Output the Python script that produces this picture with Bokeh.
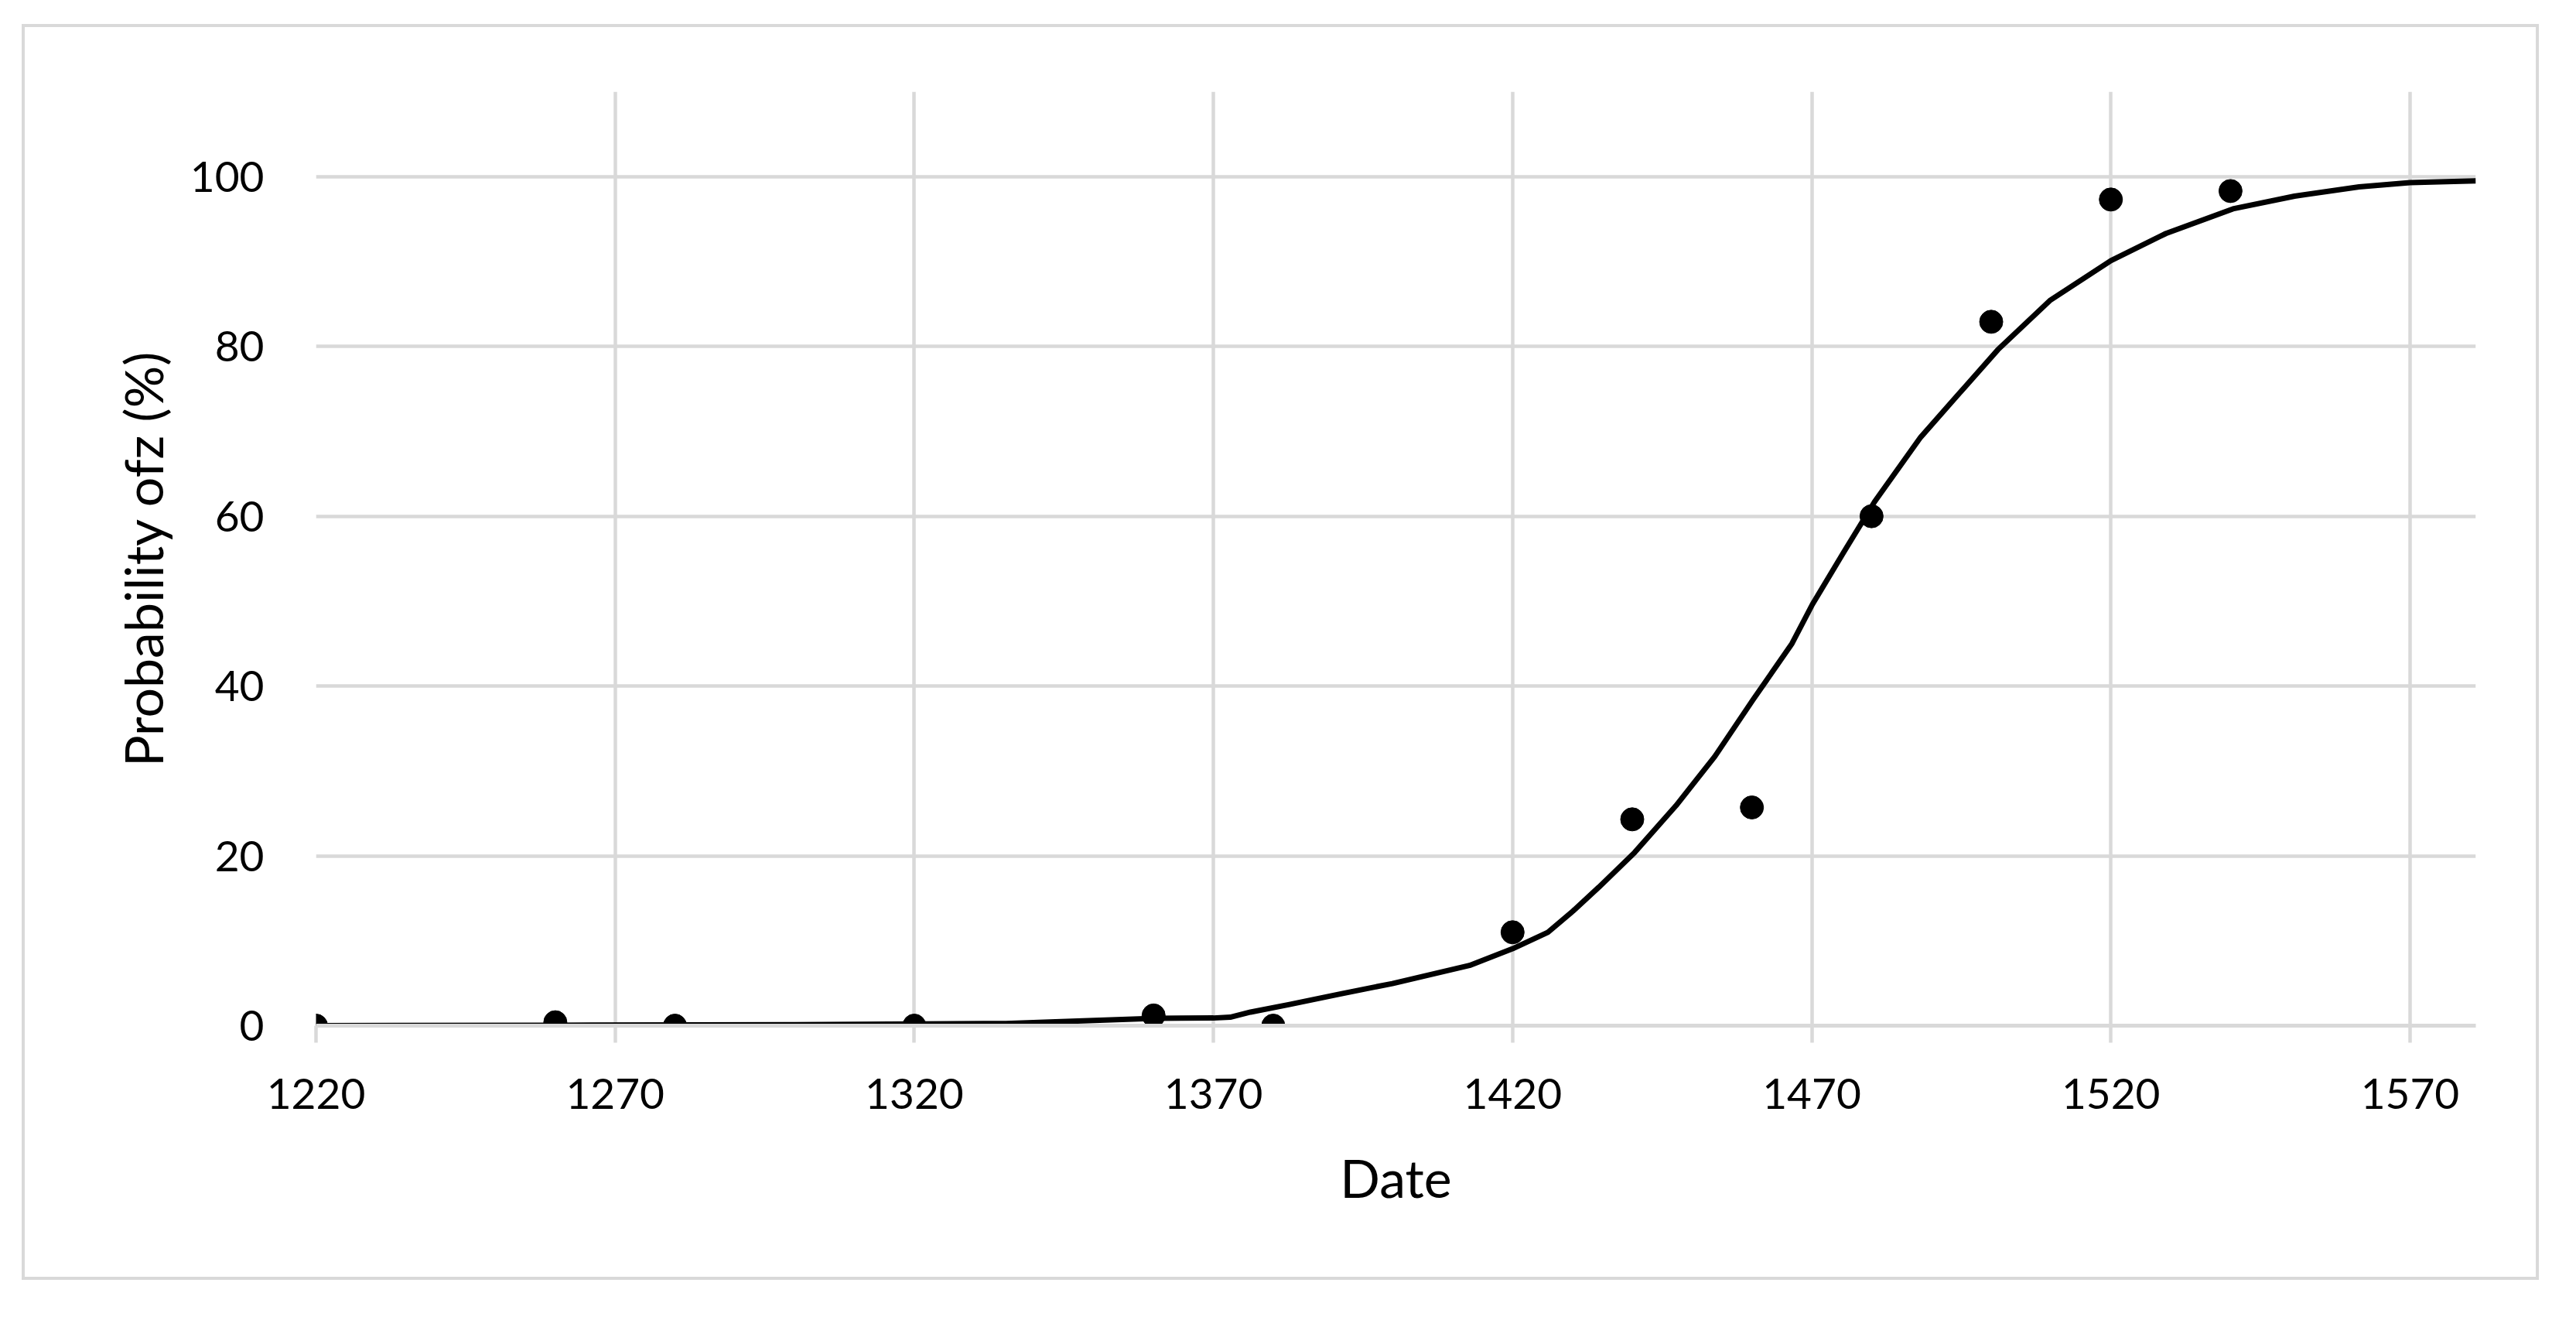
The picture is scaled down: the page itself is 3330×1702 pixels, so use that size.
from bokeh.plotting import figure
from bokeh.models import Range1d, FixedTicker
from bokeh.embed import file_html
from bokeh.resources import INLINE

# Observed data points
obs_year = [1220, 1260, 1280, 1320, 1360, 1380, 1420, 1440, 1460, 1480, 1500, 1520, 1540]
obs_prob = [0.0, 0.4, 0.0, 0.0, 1.2, 0.0, 11.0, 24.3, 25.7, 60.0, 82.9, 97.3, 98.3]

# Fitted (smoothed) curve
fit_year = [1220, 1260, 1300, 1335.3, 1348.2, 1360.3, 1370, 1372.8, 1376.2, 1382.7,
            1391.3, 1399.9, 1412.8, 1420, 1425.9, 1430.1, 1434.4, 1440.4, 1447.3,
            1453.8, 1460.2, 1466.7, 1470.1, 1475.3, 1480.5, 1488.2, 1494.7, 1501.1,
            1509.8, 1520, 1529.2, 1540.4, 1550.7, 1561.5, 1570, 1581]
fit_prob = [0.0, 0.05, 0.12, 0.26, 0.56, 0.87, 0.9, 1.0, 1.6, 2.5,
            3.75, 4.96, 7.09, 9.06, 11.0, 13.5, 16.3, 20.4, 25.9,
            31.7, 38.4, 45.0, 49.6, 55.7, 61.7, 69.3, 74.5, 79.6,
            85.4, 90.1, 93.3, 96.2, 97.7, 98.8, 99.3, 99.5]

x_ticks = [1220, 1270, 1320, 1370, 1420, 1470, 1520, 1570]
y_ticks = [0, 20, 40, 60, 80, 100]

FONT = "Lato"
GRID = "#d9d9d9"

p = figure(width=3254, height=1623, output_backend="svg", toolbar_location=None,
           x_range=Range1d(1220, 1581), y_range=Range1d(0, 110),
           min_border_left=376, min_border_right=86, min_border_top=83, min_border_bottom=333)
p.styles = {"border": "4px solid #d9d9d9", "margin-left": "28px", "margin-top": "31px"}
p.outline_line_color = None
p.background_fill_color = "white"
p.border_fill_color = "white"

p.xaxis.ticker = FixedTicker(ticks=x_ticks)
p.yaxis.ticker = FixedTicker(ticks=y_ticks)
p.xgrid.ticker = FixedTicker(ticks=x_ticks)
p.ygrid.ticker = FixedTicker(ticks=y_ticks[1:])
for g in (p.xgrid, p.ygrid):
    g.grid_line_color = GRID
    g.grid_line_width = 4.5

p.xaxis.axis_line_color = GRID
p.xaxis.axis_line_width = 5
p.xaxis.major_tick_line_color = GRID
p.xaxis.major_tick_line_width = 4.5
p.xaxis.major_tick_out = 22
p.xaxis.major_tick_in = 0
p.xaxis.minor_tick_line_color = None
p.xaxis.major_label_standoff = 46
p.xaxis.axis_label = "Date"
p.xaxis.axis_label_standoff = 45

p.yaxis.axis_line_color = None
p.yaxis.major_tick_line_color = None
p.yaxis.minor_tick_line_color = None
p.yaxis.major_tick_out = 0
p.yaxis.major_label_standoff = 67
p.yaxis.axis_label = "Probability ofz (%)"
p.yaxis.axis_label_standoff = 18

for ax in (p.xaxis, p.yaxis):
    ax.major_label_text_font = FONT
    ax.major_label_text_font_size = "55px"
    ax.major_label_text_color = "#000000"
    ax.axis_label_text_font = FONT
    ax.axis_label_text_font_size = "68px"
    ax.axis_label_text_font_style = "normal"
    ax.axis_label_text_color = "#000000"

p.line(fit_year, fit_prob, line_color="black", line_width=7, line_join="round")
p.scatter(obs_year, obs_prob, size=30, fill_color="black", line_color="black")

open("out.html", "w").write(file_html(p, INLINE))
